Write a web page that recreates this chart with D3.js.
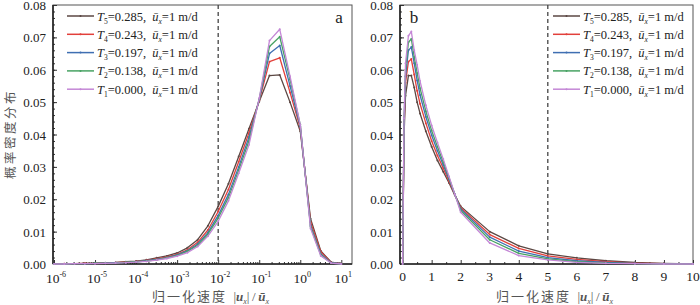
<!DOCTYPE html>
<html>
<head>
<meta charset="utf-8">
<script src="https://cdnjs.cloudflare.com/ajax/libs/d3/7.8.5/d3.min.js"></script>
<style>
  body { margin: 0; background: #fff; }
  svg { display: block; }
</style>
</head>
<body>
<div class="canvas"></div>
<script>
// series info (legend order)
const seriesIdx = ['5', '4', '3', '2', '1']
const seriesT = ['0.285', '0.243', '0.197', '0.138', '0.000']
const seriesColors = ['#5b4743', '#e2403b', '#3f6fb2', '#47a263', '#c487d6']

// panel a: log10 of normalized speed, one column per series
const leftExp = [-6, -5.75, -5.5, -5.25, -5, -4.75, -4.5, -4.25, -4, -3.75, -3.5, -3.25, -3, -2.75, -2.5,
  -2.25, -2, -1.75, -1.5, -1.25, -1, -0.75, -0.5, -0.25, 0, 0.25, 0.5, 0.75, 1]
const leftT5 = [0, 0.0001, 0.0001, 0.0002, 0.0003, 0.0004, 0.0005, 0.0007, 0.0009, 0.0013, 0.0019, 0.0025, 0.0034,
  0.0050, 0.0075, 0.0118, 0.0178, 0.0248, 0.0332, 0.0418, 0.0502, 0.0582, 0.0584, 0.0500, 0.0410, 0.0140, 0.0040, 0.0006, 0.0001]
const leftT4 = [0, 0.0001, 0.0001, 0.0002, 0.0002, 0.0003, 0.0004, 0.0006, 0.0008, 0.0011, 0.0016, 0.0022, 0.0030,
  0.0044, 0.0067, 0.0105, 0.0162, 0.0230, 0.0316, 0.0405, 0.0505, 0.0625, 0.0637, 0.0530, 0.0420, 0.0130, 0.0037, 0.0005, 0.0001]
const leftT3 = [0, 0, 0.0001, 0.0001, 0.0002, 0.0003, 0.0004, 0.0005, 0.0007, 0.0010, 0.0014, 0.0020, 0.0028,
  0.0041, 0.0062, 0.0097, 0.0150, 0.0215, 0.0300, 0.0392, 0.0508, 0.0650, 0.0675, 0.0550, 0.0425, 0.0120, 0.0031, 0.0004, 0.0001]
const leftT2 = [0, 0, 0.0001, 0.0001, 0.0002, 0.0002, 0.0003, 0.0005, 0.0007, 0.0009, 0.0013, 0.0019, 0.0026,
  0.0039, 0.0058, 0.0092, 0.0142, 0.0205, 0.0290, 0.0380, 0.0510, 0.0672, 0.0702, 0.0570, 0.0430, 0.0115, 0.0028, 0.0003, 0]
const leftT1 = [0, 0, 0.0001, 0.0001, 0.0001, 0.0002, 0.0003, 0.0004, 0.0006, 0.0008, 0.0012, 0.0017, 0.0024,
  0.0035, 0.0054, 0.0086, 0.0132, 0.0195, 0.0280, 0.0368, 0.0512, 0.0690, 0.0725, 0.0580, 0.0430, 0.0110, 0.0025, 0.0003, 0]

// panel b: linear normalized speed
const rightX = [0, 0.05, 0.1, 0.2, 0.3, 0.4, 0.5, 0.6, 0.8, 1.0, 1.2, 1.4, 1.6, 1.8, 2, 3, 4, 5, 6, 7, 8, 9, 10]
const rightT5 = [0, 0.040, 0.052, 0.0582, 0.0582, 0.0545, 0.0500, 0.0465, 0.0410, 0.0362, 0.0320, 0.0285, 0.0250,
  0.0212, 0.0178, 0.0100, 0.0056, 0.0031, 0.0019, 0.0010, 0.0005, 0.0002, 0]
const rightT4 = [0, 0.042, 0.056, 0.0625, 0.0633, 0.0585, 0.0535, 0.0495, 0.0435, 0.0380, 0.0335, 0.0296, 0.0256,
  0.0214, 0.0174, 0.0091, 0.0048, 0.0025, 0.0014, 0.0007, 0.0003, 0.0001, 0]
const rightT3 = [0, 0.043, 0.058, 0.0660, 0.0670, 0.0620, 0.0567, 0.0522, 0.0455, 0.0398, 0.0350, 0.0306, 0.0262,
  0.0215, 0.0170, 0.0083, 0.0040, 0.0020, 0.0010, 0.0005, 0.0002, 0.0001, 0]
const rightT2 = [0, 0.044, 0.060, 0.0685, 0.0695, 0.0640, 0.0590, 0.0543, 0.0472, 0.0412, 0.0362, 0.0315, 0.0266,
  0.0215, 0.0165, 0.0075, 0.0033, 0.0016, 0.0007, 0.0003, 0.0001, 0, 0]
const rightT1 = [0, 0.045, 0.062, 0.0705, 0.0718, 0.0660, 0.0615, 0.0565, 0.0490, 0.0428, 0.0375, 0.0324, 0.0270,
  0.0215, 0.0160, 0.0065, 0.0026, 0.0013, 0.0005, 0.0002, 0.0001, 0, 0]

// tick values
const yTicks = [0, 0.01, 0.02, 0.03, 0.04, 0.05, 0.06, 0.07, 0.08]
const logTicks = [-6, -5, -4, -3, -2, -1, 0, 1]
const linTicks = [0, 1, 2, 3, 4, 5, 6, 7, 8, 9, 10]

const serif = '"Liberation Serif", "Times New Roman", serif'
const cjk = '"Noto Sans CJK SC", sans-serif'

const svg = d3.select('.canvas')
  .append('svg')
  .attr('width', 700)
  .attr('height', 305)

const plotTop = 5, plotBottom = 264

const y = d3.scaleLinear().domain([0, 0.08]).range([plotBottom, plotTop])

const panels = [
  {
    x: d3.scaleLog().domain([1e-6, Math.pow(10, 1.26)]).range([54, 352]),
    left: 53, right: 352,
    xs: leftExp.map(e => Math.pow(10, e)),
    ys: [leftT5, leftT4, leftT3, leftT2, leftT1],
    dash: 1e-2, tag: 'a', tagX: 339,
    legendX: 67
  },
  {
    x: d3.scaleLinear().domain([-0.09, 10]).range([400, 693]),
    left: 400, right: 693,
    xs: rightX,
    ys: [rightT5, rightT4, rightT3, rightT2, rightT1],
    dash: 5, tag: 'b', tagX: 414,
    legendX: 553
  }
]

panels.forEach(p => {
  const g = svg.append('g')
  const x = p.x

  // frame
  g.append('rect')
    .attr('x', p.left).attr('y', plotTop)
    .attr('width', p.right - p.left).attr('height', plotBottom - plotTop)
    .attr('fill', 'none').attr('stroke', '#555').attr('stroke-width', 1)

  // y axis minor + major ticks
  const yMinor = d3.range(0, 0.0801, 0.002)
  g.append('g').attr('transform', `translate(${p.left},0)`)
    .call(d3.axisRight(y).tickValues(yMinor).tickSize(2).tickFormat(''))
  g.append('g').attr('transform', `translate(${p.left},0)`)
    .call(d3.axisRight(y).tickValues(yTicks).tickSize(4).tickFormat(''))
  yTicks.forEach(t => {
    g.append('text')
      .attr('x', p.left - 7).attr('y', y(t) + 5)
      .attr('text-anchor', 'end')
      .attr('font-family', serif).attr('font-size', 13).attr('fill', '#222')
      .text(t.toFixed(2))
  })

  // x axis ticks
  let minor, major
  if (p.tag === 'a') {
    minor = []
    logTicks.slice(0, -1).forEach(e => {
      for (let k = 2; k < 10; k++) minor.push(k * Math.pow(10, e))
    })
    major = logTicks.map(e => Math.pow(10, e))
  } else {
    minor = d3.range(0.5, 10, 1)
    major = linTicks
  }
  g.append('g').attr('transform', `translate(0,${plotBottom})`)
    .call(d3.axisTop(x).tickValues(minor).tickSize(2).tickFormat(''))
  g.append('g').attr('transform', `translate(0,${plotBottom})`)
    .call(d3.axisTop(x).tickValues(major).tickSize(4).tickFormat(''))
  g.selectAll('.domain').remove()
  g.selectAll('.tick line').attr('stroke', '#333')

  if (p.tag === 'a') {
    logTicks.forEach(e => {
      const t = g.append('text')
        .attr('x', x(Math.pow(10, e)) + 2).attr('y', 283)
        .attr('text-anchor', 'middle')
        .attr('font-family', serif).attr('font-size', 13.5).attr('fill', '#222')
      t.append('tspan').text('10')
      t.append('tspan').attr('dy', -6).attr('font-size', 8).text(e)
    })
  } else {
    linTicks.forEach(v => {
      g.append('text')
        .attr('x', x(v)).attr('y', 281)
        .attr('text-anchor', 'middle')
        .attr('font-family', serif).attr('font-size', 13.5).attr('fill', '#222')
        .text(v)
    })
  }

  // thick left and bottom axis lines
  g.append('line').attr('x1', p.left).attr('x2', p.left).attr('y1', plotTop).attr('y2', plotBottom)
    .attr('stroke', '#222').attr('stroke-width', 1.6)
  g.append('line').attr('x1', p.left).attr('x2', p.right).attr('y1', plotBottom).attr('y2', plotBottom)
    .attr('stroke', '#222').attr('stroke-width', 1.6)

  // dashed reference line
  g.append('line')
    .attr('x1', x(p.dash)).attr('x2', x(p.dash)).attr('y1', plotTop).attr('y2', plotBottom)
    .attr('stroke', '#444').attr('stroke-width', 1.3).attr('stroke-dasharray', '4,3')

  // curves
  const line = d3.line().x(d => x(d[0])).y(d => y(d[1]))
  p.ys.forEach((vals, i) => {
    const pts = p.xs.map((v, j) => [v, vals[j]])
    g.append('path')
      .attr('d', line(pts))
      .attr('fill', 'none')
      .attr('stroke', seriesColors[i])
      .attr('stroke-width', 1.3)
      .attr('stroke-linejoin', 'round')
    g.selectAll(null).data(pts).enter()
      .append('circle')
      .attr('cx', d => x(d[0])).attr('cy', d => y(d[1]))
      .attr('r', 1)
      .attr('fill', seriesColors[i])
  })

  // panel tag
  g.append('text')
    .attr('x', p.tagX).attr('y', 23)
    .attr('text-anchor', 'middle')
    .attr('font-family', serif).attr('font-size', 17).attr('fill', '#222')
    .text(p.tag)

  // legend
  seriesIdx.forEach((s, i) => {
    const ly = 16 + i * 18.3
    g.append('line')
      .attr('x1', p.legendX).attr('x2', p.legendX + 27).attr('y1', ly).attr('y2', ly)
      .attr('stroke', seriesColors[i]).attr('stroke-width', 1.5)
    g.append('circle').attr('cx', p.legendX + 13.5).attr('cy', ly).attr('r', 1).attr('fill', seriesColors[i])
    const t = g.append('text')
      .attr('x', p.legendX + 30).attr('y', ly + 4.5)
      .attr('font-family', serif).attr('font-size', 12.5).attr('fill', '#222')
    t.append('tspan').attr('font-style', 'italic').text('T')
    t.append('tspan').attr('font-size', 7.5).attr('dy', 3).text(s)
    t.append('tspan').attr('dy', -3).text('=' + seriesT[i] + ',\u00a0\u00a0')
    t.append('tspan').attr('font-style', 'italic').text('\u016b')
    t.append('tspan').attr('font-size', 7.5).attr('font-style', 'italic').attr('dy', 3).text('x')
    t.append('tspan').attr('dy', -3).text('=1 m/d')
  })

  // x axis title
  const xt = g.append('text')
    .attr('x', (p.left + p.right) / 2 + 8).attr('y', 301)
    .attr('text-anchor', 'middle')
    .attr('fill', '#555').attr('font-size', 13)
  xt.append('tspan').attr('font-family', cjk).attr('letter-spacing', 2).text('归一化速度')
  xt.append('tspan').attr('font-family', serif).text('\u00a0\u00a0|')
  xt.append('tspan').attr('font-family', serif).attr('font-style', 'italic').attr('font-weight', 'bold').text('u')
  xt.append('tspan').attr('font-family', serif).attr('font-style', 'italic').attr('font-size', 8).attr('dy', 3).text('x')
  xt.append('tspan').attr('font-family', serif).attr('dy', -3).text('|\u2009/\u2009')
  xt.append('tspan').attr('font-family', serif).attr('font-style', 'italic').attr('font-weight', 'bold').text('\u016b')
  xt.append('tspan').attr('font-family', serif).attr('font-style', 'italic').attr('font-size', 8).attr('dy', 3).text('x')
})

// y axis title
svg.append('text')
  .attr('transform', 'translate(15,134) rotate(-90)')
  .attr('text-anchor', 'middle')
  .attr('font-family', cjk).attr('font-size', 12.5).attr('letter-spacing', 2.5)
  .attr('fill', '#555')
  .text('概率密度分布')
</script>
</body>
</html>
